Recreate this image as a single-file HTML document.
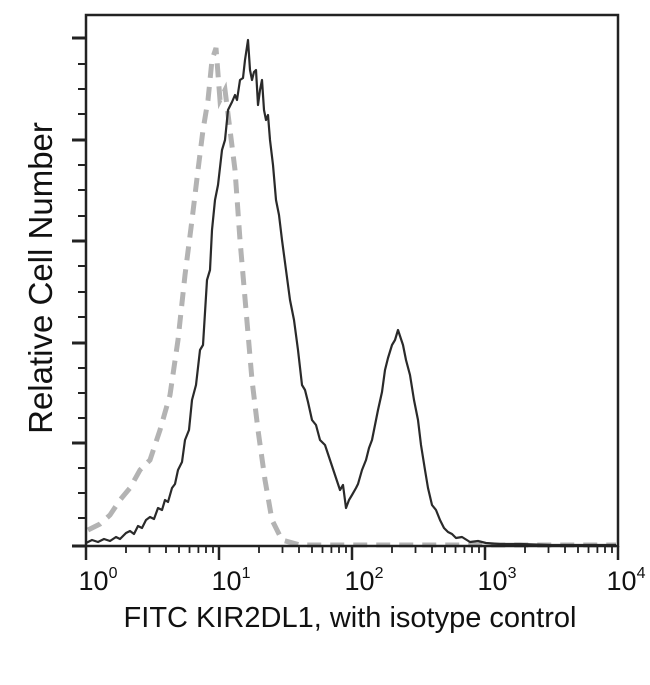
<!DOCTYPE html>
<html><head><meta charset="utf-8"><style>body{margin:0;background:#fff}</style></head>
<body>
<svg width="650" height="680" viewBox="0 0 650 680" xmlns="http://www.w3.org/2000/svg" font-family="Liberation Sans, sans-serif">
<polyline fill="none" stroke="#b3b3b3" stroke-width="5" stroke-dasharray="14,9" points="88,530 100,524 110,515 120,500 130,488 140,470 150,460 160,430 170,395 178,340 185,275 192,220 198,170 203,130 208,100 212,60 216,48 220,100 225,90 230,130 235,170 240,240 246,310 252,380 258,430 265,480 272,520 282,540 300,545 616,545"/>
<polyline fill="none" stroke="#2a2a2a" stroke-width="2.2" stroke-linejoin="round" points="86,543 92,540 98,542 104,539 110,541 116,537 120,539 126,533 130,531 134,534 138,526 142,528 146,520 150,517 154,519 158,508 162,510 165,500 168,502 172,488 175,484 178,470 182,462 185,440 189,430 192,400 196,385 200,350 203,345 207,280 210,270 212,230 215,200 218,185 222,150 225,140 228,110 232,102 235,95 237,100 240,80 243,78 245,60 248,40 250,70 252,80 254,72 256,70 258,105 260,90 262,80 264,110 266,120 268,115 270,140 273,165 276,200 279,215 282,240 286,270 290,300 294,320 298,350 302,385 305,390 308,402 312,420 316,425 320,440 325,445 330,460 335,475 340,490 343,485 346,508 349,500 352,495 356,488 358,484 362,470 366,460 369,448 372,440 375,425 378,410 382,392 385,370 388,358 392,345 395,340 398,330 400,336 403,345 406,360 410,375 414,400 418,420 421,445 425,470 428,488 432,505 436,510 440,520 444,528 448,532 452,534 456,538 462,537 470,542 478,541 486,543 500,544 520,544 550,545 580,545 616,545"/>
<g stroke="#222" fill="none">
<rect x="86" y="15" width="532" height="531" stroke-width="2.5"/>
<g stroke-width="3">
<line x1="72" y1="546" x2="86" y2="546"/><line x1="72" y1="443" x2="86" y2="443"/><line x1="72" y1="343" x2="86" y2="343"/><line x1="72" y1="241" x2="86" y2="241"/><line x1="72" y1="140" x2="86" y2="140"/><line x1="72" y1="38" x2="86" y2="38"/>
</g>
<g stroke-width="2">
<line x1="78" y1="518" x2="86" y2="518"/><line x1="78" y1="493" x2="86" y2="493"/><line x1="78" y1="468" x2="86" y2="468"/>
<line x1="78" y1="418" x2="86" y2="418"/><line x1="78" y1="393" x2="86" y2="393"/><line x1="78" y1="368" x2="86" y2="368"/>
<line x1="78" y1="317" x2="86" y2="317"/><line x1="78" y1="292" x2="86" y2="292"/><line x1="78" y1="266" x2="86" y2="266"/>
<line x1="78" y1="216" x2="86" y2="216"/><line x1="78" y1="190" x2="86" y2="190"/><line x1="78" y1="165" x2="86" y2="165"/>
<line x1="78" y1="114" x2="86" y2="114"/><line x1="78" y1="89" x2="86" y2="89"/><line x1="78" y1="64" x2="86" y2="64"/>
</g>
<g stroke-width="2.5">
<line x1="86" y1="546" x2="86" y2="560"/><line x1="219" y1="546" x2="219" y2="560"/><line x1="352" y1="546" x2="352" y2="560"/><line x1="485" y1="546" x2="485" y2="560"/><line x1="618" y1="546" x2="618" y2="560"/>
</g>
<g stroke-width="1.8" id="mt">
<line x1="126" y1="546" x2="126" y2="553"/><line x1="149.5" y1="546" x2="149.5" y2="553"/><line x1="166" y1="546" x2="166" y2="553"/><line x1="179" y1="546" x2="179" y2="553"/><line x1="189.5" y1="546" x2="189.5" y2="553"/><line x1="198.4" y1="546" x2="198.4" y2="553"/><line x1="206" y1="546" x2="206" y2="553"/><line x1="213" y1="546" x2="213" y2="553"/>
</g>
<use href="#mt" x="133"/><use href="#mt" x="266"/><use href="#mt" x="399"/>
</g>
<g font-size="27" fill="#111" text-anchor="middle">
<text x="98" y="590">10<tspan font-size="16" dy="-12">0</tspan></text>
<text x="231" y="590">10<tspan font-size="16" dy="-12">1</tspan></text>
<text x="364" y="590">10<tspan font-size="16" dy="-12">2</tspan></text>
<text x="497" y="590">10<tspan font-size="16" dy="-12">3</tspan></text>
<text x="626" y="590">10<tspan font-size="16" dy="-12">4</tspan></text>
<text x="350" y="627" font-size="29">FITC KIR2DL1, with isotype control</text>
<text transform="translate(52,278) rotate(-90)" font-size="33">Relative Cell Number</text>
</g>
</svg>
</body></html>
